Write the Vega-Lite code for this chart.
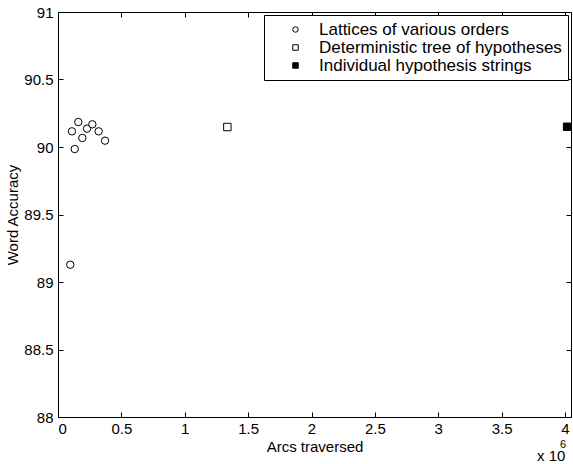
{
  "$schema": "https://vega.github.io/schema/vega-lite/v6.json",
  "autosize": {"type": "none"},
  "padding": {"left": 58, "top": 12, "right": 2, "bottom": 47},
  "width": 513,
  "height": 405,
  "background": "white",
  "config": {
    "font": "Liberation Sans",
    "view": {"stroke": "black", "strokeWidth": 1},
    "axis": {
      "grid": false,
      "labelFontSize": 15,
      "labelColor": "black",
      "titleFontSize": 15,
      "titleFontWeight": "normal",
      "titleColor": "black",
      "domainColor": "black",
      "tickColor": "black"
    },
    "legend": {
      "labelFontSize": 17,
      "labelColor": "black",
      "labelLimit": 400
    }
  },
  "datasets": {
    "pts": [
      {"arcs": 0.110, "acc": 90.116, "series": "Lattices of various orders"},
      {"arcs": 0.160, "acc": 90.185, "series": "Lattices of various orders"},
      {"arcs": 0.132, "acc": 89.985, "series": "Lattices of various orders"},
      {"arcs": 0.192, "acc": 90.067, "series": "Lattices of various orders"},
      {"arcs": 0.229, "acc": 90.136, "series": "Lattices of various orders"},
      {"arcs": 0.271, "acc": 90.168, "series": "Lattices of various orders"},
      {"arcs": 0.321, "acc": 90.116, "series": "Lattices of various orders"},
      {"arcs": 0.371, "acc": 90.047, "series": "Lattices of various orders"},
      {"arcs": 0.097, "acc": 89.128, "series": "Lattices of various orders"},
      {"arcs": 1.336, "acc": 90.148, "series": "Deterministic tree of hypotheses"},
      {"arcs": 4.016, "acc": 90.150, "series": "Individual hypothesis strings"}
    ],
    "notes": [
      {"arcs": 3.779, "acc": 87.711, "txt": "x 10", "size": 15},
      {"arcs": 3.961, "acc": 87.793, "txt": "6", "size": 11}
    ]
  },
  "layer": [
    {
      "data": {"name": "pts"},
      "mark": {"type": "point", "filled": true, "stroke": "black", "strokeWidth": 1, "size": 55, "opacity": 1},
      "encoding": {
        "x": {
          "field": "arcs", "type": "quantitative",
          "scale": {"domain": [0, 4.047], "nice": false, "zero": false},
          "axis": {"orient": "bottom", "values": [0, 0.5, 1, 1.5, 2, 2.5, 3, 3.5, 4], "format": "~g", "ticks": false, "tickSize": 0, "labelPadding": 4, "title": "Arcs traversed", "titlePadding": 3}
        },
        "y": {
          "field": "acc", "type": "quantitative",
          "scale": {"domain": [88, 91], "nice": false, "zero": false},
          "axis": {"orient": "left", "values": [88, 88.5, 89, 89.5, 90, 90.5, 91], "format": "~g", "ticks": false, "tickSize": 0, "labelPadding": 5, "title": "Word Accuracy", "titlePadding": 3}
        },
        "shape": {
          "field": "series", "type": "nominal",
          "scale": {
            "domain": ["Lattices of various orders", "Deterministic tree of hypotheses", "Individual hypothesis strings"],
            "range": ["circle", "square", "square"]
          },
          "legend": {
            "title": " ", "titleOrient": "left", "titlePadding": 17, "titleFontSize": 4,
            "orient": "top-right", "offset": 3,
            "strokeColor": "black", "fillColor": "white", "padding": 6,
            "labelOffset": 15, "rowPadding": 0,
            "symbolSize": 30, "symbolStrokeWidth": 1,
            "encode": {"symbols": {"update": {"stroke": {"value": "black"}}}}
          }
        },
        "fill": {
          "field": "series", "type": "nominal",
          "scale": {
            "domain": ["Lattices of various orders", "Deterministic tree of hypotheses", "Individual hypothesis strings"],
            "range": ["white", "white", "black"]
          },
          "legend": {
            "title": " ", "titleOrient": "left", "titlePadding": 17, "titleFontSize": 4,
            "orient": "top-right", "offset": 3,
            "strokeColor": "black", "fillColor": "white", "padding": 6,
            "labelOffset": 15, "rowPadding": 0,
            "symbolSize": 30, "symbolStrokeWidth": 1,
            "encode": {"symbols": {"update": {"stroke": {"value": "black"}}}}
          }
        }
      }
    },
    {
      "data": {"name": "pts"},
      "mark": {"type": "point", "opacity": 0},
      "encoding": {
        "x": {"field": "arcs", "type": "quantitative", "axis": {"orient": "bottom", "offset": -5, "ticks": true, "tickSize": 5, "tickWidth": 1, "tickOpacity": 1, "tickColor": "black", "domain": false, "values": [0, 0.5, 1, 1.5, 2, 2.5, 3, 3.5, 4], "labels": false, "title": null}},
        "y": {"field": "acc", "type": "quantitative", "axis": {"orient": "left", "offset": -5, "ticks": true, "tickSize": 5, "tickWidth": 1, "tickOpacity": 1, "tickColor": "black", "domain": false, "values": [88, 88.5, 89, 89.5, 90, 90.5, 91], "labels": false, "title": null}}
      }
    },
    {
      "data": {"name": "pts"},
      "mark": {"type": "point", "opacity": 0},
      "encoding": {
        "x": {"field": "arcs", "type": "quantitative", "axis": {"orient": "top", "offset": -5, "ticks": true, "tickSize": 5, "tickWidth": 1, "tickOpacity": 1, "tickColor": "black", "domain": false, "values": [0, 0.5, 1, 1.5, 2, 2.5, 3, 3.5, 4], "labels": false, "title": null}},
        "y": {"field": "acc", "type": "quantitative", "axis": {"orient": "right", "offset": -5, "ticks": true, "tickSize": 5, "tickWidth": 1, "tickOpacity": 1, "tickColor": "black", "domain": false, "values": [88, 88.5, 89, 89.5, 90, 90.5, 91], "labels": false, "title": null}}
      }
    },
    {
      "data": {"name": "notes"},
      "mark": {"type": "text", "align": "left", "baseline": "middle", "color": "black"},
      "encoding": {
        "x": {"field": "arcs", "type": "quantitative", "axis": null},
        "y": {"field": "acc", "type": "quantitative", "axis": null},
        "text": {"field": "txt"},
        "size": {"field": "size", "type": "quantitative", "scale": null, "legend": null}
      }
    }
  ],
  "resolve": {"axis": {"x": "independent", "y": "independent"}}
}
